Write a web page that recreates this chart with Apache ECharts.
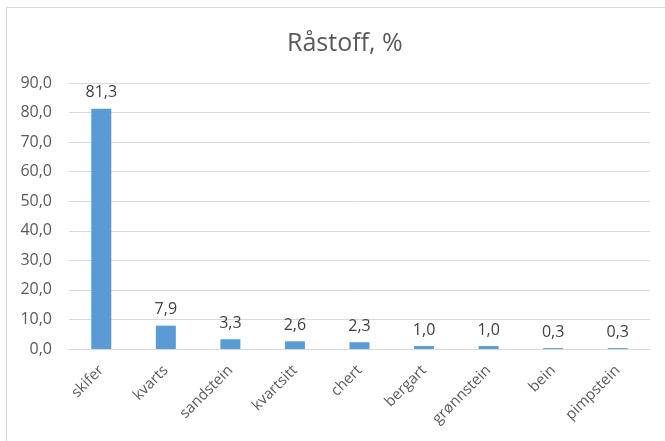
<!DOCTYPE html>
<html>
<head>
<meta charset="utf-8">
<script src="https://cdn.jsdelivr.net/npm/echarts@6/dist/echarts.min.js"></script>
<style>
  html, body { margin: 0; padding: 0; background: #fff; }
  #chart { width: 665px; height: 441px; }
</style>
</head>
<body>
<div id="chart"></div>
<script>
// Raw material shares, percent
const categories = ['skifer', 'kvarts', 'sandstein', 'kvartsitt', 'chert', 'bergart', 'grønnstein', 'bein', 'pimpstein'];
const shares = [81.3, 7.9, 3.3, 2.6, 2.3, 1.0, 1.0, 0.3, 0.3];
const titleText = 'Råstoff, %';

const fmt = v => Number(v).toFixed(1).replace('.', ',');
const font = '"Open Sans", "Liberation Sans", sans-serif';

const chart = echarts.init(document.getElementById('chart'), null, { renderer: 'canvas' });
chart.setOption({
  animation: false,
  backgroundColor: '#ffffff',
  title: {
    text: titleText,
    left: 282,
    top: 26,
    textStyle: { fontFamily: font, fontSize: 25, fontWeight: 'normal', color: '#595959' }
  },
  graphic: [{
    type: 'rect',
    shape: { x: 6.5, y: 7.5, width: 700, height: 500 },
    style: { fill: 'none', stroke: '#D9D9D9', lineWidth: 1 },
    silent: true
  }],
  grid: { left: 69, right: 15, top: 83, bottom: 92, containLabel: false },
  xAxis: {
    type: 'category',
    data: categories,
    axisLine: { show: true, lineStyle: { color: '#D9D9D9', width: 1 } },
    axisTick: { show: false },
    axisLabel: {
      rotate: 45,
      interval: 0,
      margin: 19,
      fontFamily: font,
      fontSize: 15,
      color: '#595959'
    }
  },
  yAxis: {
    type: 'value',
    min: 0,
    max: 90,
    interval: 10,
    axisLine: { show: false },
    axisTick: { show: false },
    splitLine: { lineStyle: { color: '#D9D9D9', width: 1 } },
    axisLabel: {
      margin: 17,
      fontFamily: font,
      fontSize: 16,
      color: '#595959',
      formatter: fmt
    }
  },
  series: [{
    type: 'bar',
    data: shares,
    barWidth: 20,
    itemStyle: { color: '#5B9BD5' },
    label: {
      show: true,
      position: 'top',
      distance: 8,
      fontFamily: font,
      fontSize: 16,
      color: '#404040',
      formatter: p => fmt(p.value)
    }
  }]
});
</script>
</body>
</html>
